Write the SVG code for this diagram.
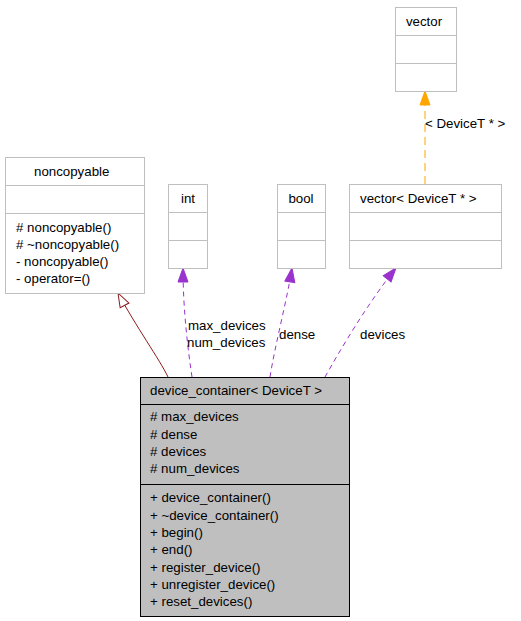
<svg xmlns="http://www.w3.org/2000/svg" width="521" height="621" viewBox="0 0 521 621">
<style>
text{font-family:"Liberation Sans",Arial,sans-serif;font-size:13.3px;fill:#000}
.box{fill:#fff;stroke:#bfbfbf;stroke-width:1}
.main{fill:#bfbfbf;stroke:#000;stroke-width:1}
.divg{stroke:#bfbfbf;stroke-width:1}
.divk{stroke:#000;stroke-width:1}
.mid{text-anchor:middle}
.inh{fill:none;stroke:#8b1a1a;stroke-width:1;marker-end:url(#open)}
.use{fill:none;stroke:#9a32cd;stroke-width:1;stroke-dasharray:5,4;marker-end:url(#purple)}
.tmpl{fill:none;stroke:#ffa500;stroke-width:1;stroke-dasharray:8,5;marker-end:url(#orange)}
</style>
<defs>
<marker id="open" markerUnits="userSpaceOnUse" markerWidth="16" markerHeight="12" viewBox="-1 -1 16 12" refX="14" refY="5" orient="auto"><path d="M0,0 L14,5 L0,10 Z" fill="#fff" stroke="#8b1a1a" stroke-width="1"/></marker>
<marker id="purple" markerUnits="userSpaceOnUse" markerWidth="16" markerHeight="12" viewBox="-1 -1 16 12" refX="14" refY="5" orient="auto"><path d="M0,0 L14,5 L0,10 Z" fill="#9a32cd" stroke="#9a32cd" stroke-width="1"/></marker>
<marker id="orange" markerUnits="userSpaceOnUse" markerWidth="16" markerHeight="12" viewBox="-1 -1 16 12" refX="14" refY="5" orient="auto"><path d="M0,0 L14,5 L0,10 Z" fill="#ffa500" stroke="#ffa500" stroke-width="1"/></marker>
</defs>
<rect width="521" height="621" fill="#fff"/>
<g id="connectors">
<path class="inh" d="M168,377 C160,360 135,325 118,293"/>
<path class="use" d="M192,377 C188,350 183,310 183,268"/>
<path class="use" d="M270,377 C275,345 287,300 292,268"/>
<path class="use" d="M325,377 C340,350 370,300 396,268"/>
<path class="tmpl" d="M425,184 L425,91"/>
<text x="188" y="329.5">max_devices</text>
<text x="187" y="347">num_devices</text>
<text x="279" y="338.5">dense</text>
<text x="360" y="338.5">devices</text>
<text x="425" y="127.5">&lt; DeviceT * &gt;</text>
</g>
<g id="noncopyable">
<rect class="box" x="5.5" y="157.5" width="139" height="136"/>
<line class="divg" x1="5.5" y1="185.5" x2="144.5" y2="185.5"/>
<line class="divg" x1="5.5" y1="213.5" x2="144.5" y2="213.5"/>
<text x="34" y="175.5">noncopyable</text>
<text x="16" y="231.5"># noncopyable()</text>
<text x="16" y="248.5"># ~noncopyable()</text>
<text x="16" y="265.5">- noncopyable()</text>
<text x="16" y="282.5">- operator=()</text>
</g>
<g id="int">
<rect class="box" x="168.5" y="184.5" width="39" height="84"/>
<line class="divg" x1="168.5" y1="212.5" x2="207.5" y2="212.5"/>
<line class="divg" x1="168.5" y1="240.5" x2="207.5" y2="240.5"/>
<text x="188" y="202.5" class="mid">int</text>
</g>
<g id="bool">
<rect class="box" x="277.5" y="184.5" width="48" height="84"/>
<line class="divg" x1="277.5" y1="212.5" x2="325.5" y2="212.5"/>
<line class="divg" x1="277.5" y1="240.5" x2="325.5" y2="240.5"/>
<text x="301" y="202.5" class="mid">bool</text>
</g>
<g id="vector_devicet">
<rect class="box" x="349.5" y="184.5" width="152" height="84"/>
<line class="divg" x1="349.5" y1="212.5" x2="501.5" y2="212.5"/>
<line class="divg" x1="349.5" y1="240.5" x2="501.5" y2="240.5"/>
<text x="360" y="202.5">vector&lt; DeviceT * &gt;</text>
</g>
<g id="vector">
<rect class="box" x="395.5" y="7.5" width="61" height="84"/>
<line class="divg" x1="395.5" y1="35.5" x2="456.5" y2="35.5"/>
<line class="divg" x1="395.5" y1="63.5" x2="456.5" y2="63.5"/>
<text x="424" y="25.5" class="mid">vector</text>
</g>
<g id="device_container">
<rect class="main" x="140.5" y="377.5" width="209" height="239"/>
<line class="divk" x1="140.5" y1="404.5" x2="349.5" y2="404.5"/>
<line class="divk" x1="140.5" y1="484.5" x2="349.5" y2="484.5"/>
<text x="150" y="394.5">device_container&lt; DeviceT &gt;</text>
<text x="150" y="421.2"># max_devices</text>
<text x="150" y="438.6"># dense</text>
<text x="150" y="456"># devices</text>
<text x="150" y="473.4"># num_devices</text>
<text x="150" y="502.2">+ device_container()</text>
<text x="150" y="519.5">+ ~device_container()</text>
<text x="150" y="537">+ begin()</text>
<text x="150" y="554.3">+ end()</text>
<text x="150" y="571.6">+ register_device()</text>
<text x="150" y="589">+ unregister_device()</text>
<text x="150" y="606.3">+ reset_devices()</text>
</g>
</svg>
